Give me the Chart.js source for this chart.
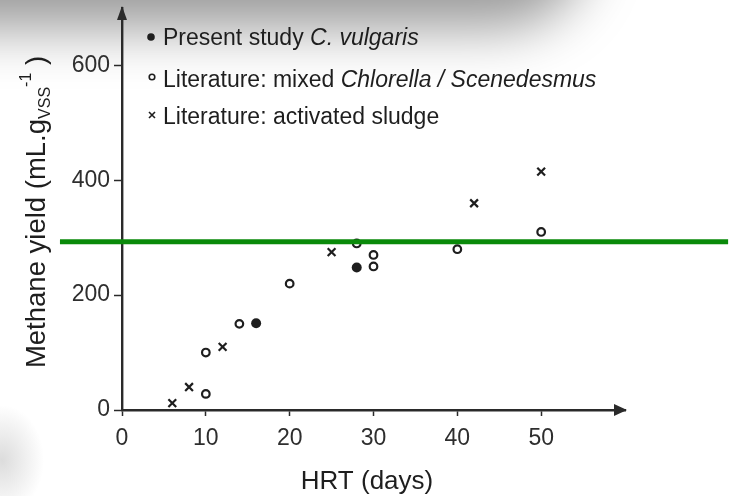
<!DOCTYPE html>
<html>
<head>
<meta charset="utf-8">
<script src="https://cdn.jsdelivr.net/npm/chart.js@4.4.1/dist/chart.umd.min.js"></script>
<style>
  html, body { margin: 0; padding: 0; background: #fff; overflow: hidden; }
  #wrap { position: relative; width: 729px; height: 496px; }
  #shade { position: absolute; top: -60px; left: -80px; width: 640px; height: 60px;
           background: #888; border-radius: 0 0 80px 0;
           box-shadow: 0 0 55px 28px rgba(0,0,0,0.4); }
  #blob { position: absolute; left: -40px; top: 405px; width: 84px; height: 110px;
          border-radius: 50%; background: radial-gradient(closest-side, #dcdcdc, rgba(255,255,255,0)); }
  canvas { position: absolute; left: 0; top: 0; }
</style>
</head>
<body>
<div id="wrap">
  <div id="shade"></div>
  <div id="blob"></div>
  <canvas id="chart" width="729" height="496"></canvas>
</div>
<script>
// values
const hrtStudy = [16, 28]
const yieldStudy = [151, 248]

const hrtAlgae = [10, 10, 14, 20, 28, 30, 30, 40, 50]
const yieldAlgae = [28, 100, 150, 220, 290, 270, 250, 280, 310]

const hrtSludge = [6, 8, 12, 25, 42, 50]
const yieldSludge = [12, 40, 110, 275, 360, 415]

const xTicks = [0, 10, 20, 30, 40, 50]
const yTicks = [0, 200, 400, 600]

// green reference line (drawn over the figure)
const refYield = 293
const refHrt = [-7.4, 72.3]

const legendRows = [
    [{ t: 'Present study ' }, { t: 'C. vulgaris', it: true }],
    [{ t: 'Literature: mixed ' }, { t: 'Chlorella / Scenedesmus', it: true }],
    [{ t: 'Literature: activated sludge' }]
]

const FONT = '"Liberation Sans", Arial, Helvetica, sans-serif'
const INK = '#1e1e1e'

const toPts = (xs, ys) => xs.map((x, i) => ({ x: x, y: ys[i] }))

const decor = {
    id: 'decor',
    afterDraw(chart) {
        const ctx = chart.ctx
        const a = chart.chartArea
        ctx.save()
        ctx.fillStyle = '#2a2a2a'
        // arrow heads
        ctx.beginPath()
        ctx.moveTo(a.left, a.top - 2)
        ctx.lineTo(a.left - 5, a.top + 12)
        ctx.lineTo(a.left + 5, a.top + 12)
        ctx.closePath()
        ctx.fill()
        ctx.beginPath()
        ctx.moveTo(a.right + 2, a.bottom)
        ctx.lineTo(a.right - 11, a.bottom - 6)
        ctx.lineTo(a.right - 11, a.bottom + 6)
        ctx.closePath()
        ctx.fill()

        // x title
        ctx.fillStyle = INK
        ctx.font = '26px ' + FONT
        ctx.textAlign = 'center'
        ctx.textBaseline = 'alphabetic'
        ctx.fillText('HRT (days)', 367, 489)

        // y title with subscript / superscript
        const runs = [
            { t: 'Methane yield (mL.g', s: 27.5, dy: 0 },
            { t: 'VSS', s: 16, dy: 5 },
            { t: '-1', s: 16, dy: -14 },
            { t: ' )', s: 27.5, dy: 0 }
        ]
        ctx.textAlign = 'left'
        let total = 0
        runs.forEach(r => { ctx.font = r.s + 'px ' + FONT; r.w = ctx.measureText(r.t).width; total += r.w })
        ctx.translate(45, 212)
        ctx.rotate(-Math.PI / 2)
        let x = -total / 2
        runs.forEach(r => {
            ctx.font = r.s + 'px ' + FONT
            ctx.fillText(r.t, x, r.dy)
            x += r.w
        })
        ctx.restore()

        // legend
        ctx.save()
        ctx.fillStyle = INK
        ctx.strokeStyle = INK
        ctx.textBaseline = 'alphabetic'
        const base = [45, 87, 124]
        legendRows.forEach((row, i) => {
            let tx = 163
            row.forEach(p => {
                ctx.font = (p.it ? 'italic ' : '') + '23px ' + FONT
                ctx.fillText(p.t, tx, base[i])
                tx += ctx.measureText(p.t).width
            })
        })
        ctx.beginPath(); ctx.arc(151, 37, 3.8, 0, Math.PI * 2); ctx.fill()
        ctx.lineWidth = 1.6
        ctx.beginPath(); ctx.arc(152, 77, 2.8, 0, Math.PI * 2); ctx.stroke()
        ctx.beginPath()
        ctx.moveTo(149, 112); ctx.lineTo(155, 118)
        ctx.moveTo(155, 112); ctx.lineTo(149, 118)
        ctx.stroke()
        ctx.restore()
    }
}

const ctx = document.getElementById('chart')

new Chart(ctx, {
    type: 'scatter',
    data: {
        datasets: [
            {
                label: 'ref', type: 'line', data: toPts(refHrt, [refYield, refYield]),
                borderColor: '#0a8a0a', borderWidth: 5, pointRadius: 0, clip: false, order: 0
            },
            {
                label: 'Present study C. vulgaris', data: toPts(hrtStudy, yieldStudy),
                pointStyle: 'circle', pointRadius: 5, backgroundColor: INK, borderColor: INK, borderWidth: 0, order: 1
            },
            {
                label: 'Literature: mixed Chlorella / Scenedesmus', data: toPts(hrtAlgae, yieldAlgae),
                pointStyle: 'circle', pointRadius: 3.8, backgroundColor: 'rgba(0,0,0,0)', borderColor: INK, borderWidth: 2.2, order: 2
            },
            {
                label: 'Literature: activated sludge', data: toPts(hrtSludge, yieldSludge),
                pointStyle: 'crossRot', pointRadius: 5.5, borderColor: INK, borderWidth: 2.2, order: 3
            }
        ]
    },
    options: {
        responsive: false,
        animation: false,
        devicePixelRatio: 1,
        layout: { padding: { top: 8, right: 104, left: 0, bottom: 0 } },
        plugins: { legend: { display: false }, tooltip: { enabled: false } },
        scales: {
            x: {
                type: 'linear', min: 0, max: 60,
                afterBuildTicks: s => { s.ticks = xTicks.map(v => ({ value: v })) },
                afterFit: s => { s.height = 86; s.paddingLeft = 0; s.paddingRight = 0 },
                grid: { drawOnChartArea: false, drawTicks: true, tickLength: 6, tickColor: '#2a2a2a', tickWidth: 1.5 },
                border: { display: true, color: '#2a2a2a', width: 2.4 },
                ticks: { color: '#2e2e2e', padding: 9, font: { size: 23, family: FONT }, maxRotation: 0 }
            },
            y: {
                type: 'linear', min: 0, max: 700,
                afterBuildTicks: s => { s.ticks = yTicks.map(v => ({ value: v })) },
                afterFit: s => { s.width = 122; s.paddingTop = 0; s.paddingBottom = 0 },
                grid: { drawOnChartArea: false, drawTicks: true, tickLength: 8, tickColor: '#2a2a2a', tickWidth: 1.5 },
                border: { display: true, color: '#2a2a2a', width: 2.4 },
                ticks: { color: '#2e2e2e', padding: 4, font: { size: 23, family: FONT } }
            }
        }
    },
    plugins: [decor]
})
</script>
</body>
</html>
